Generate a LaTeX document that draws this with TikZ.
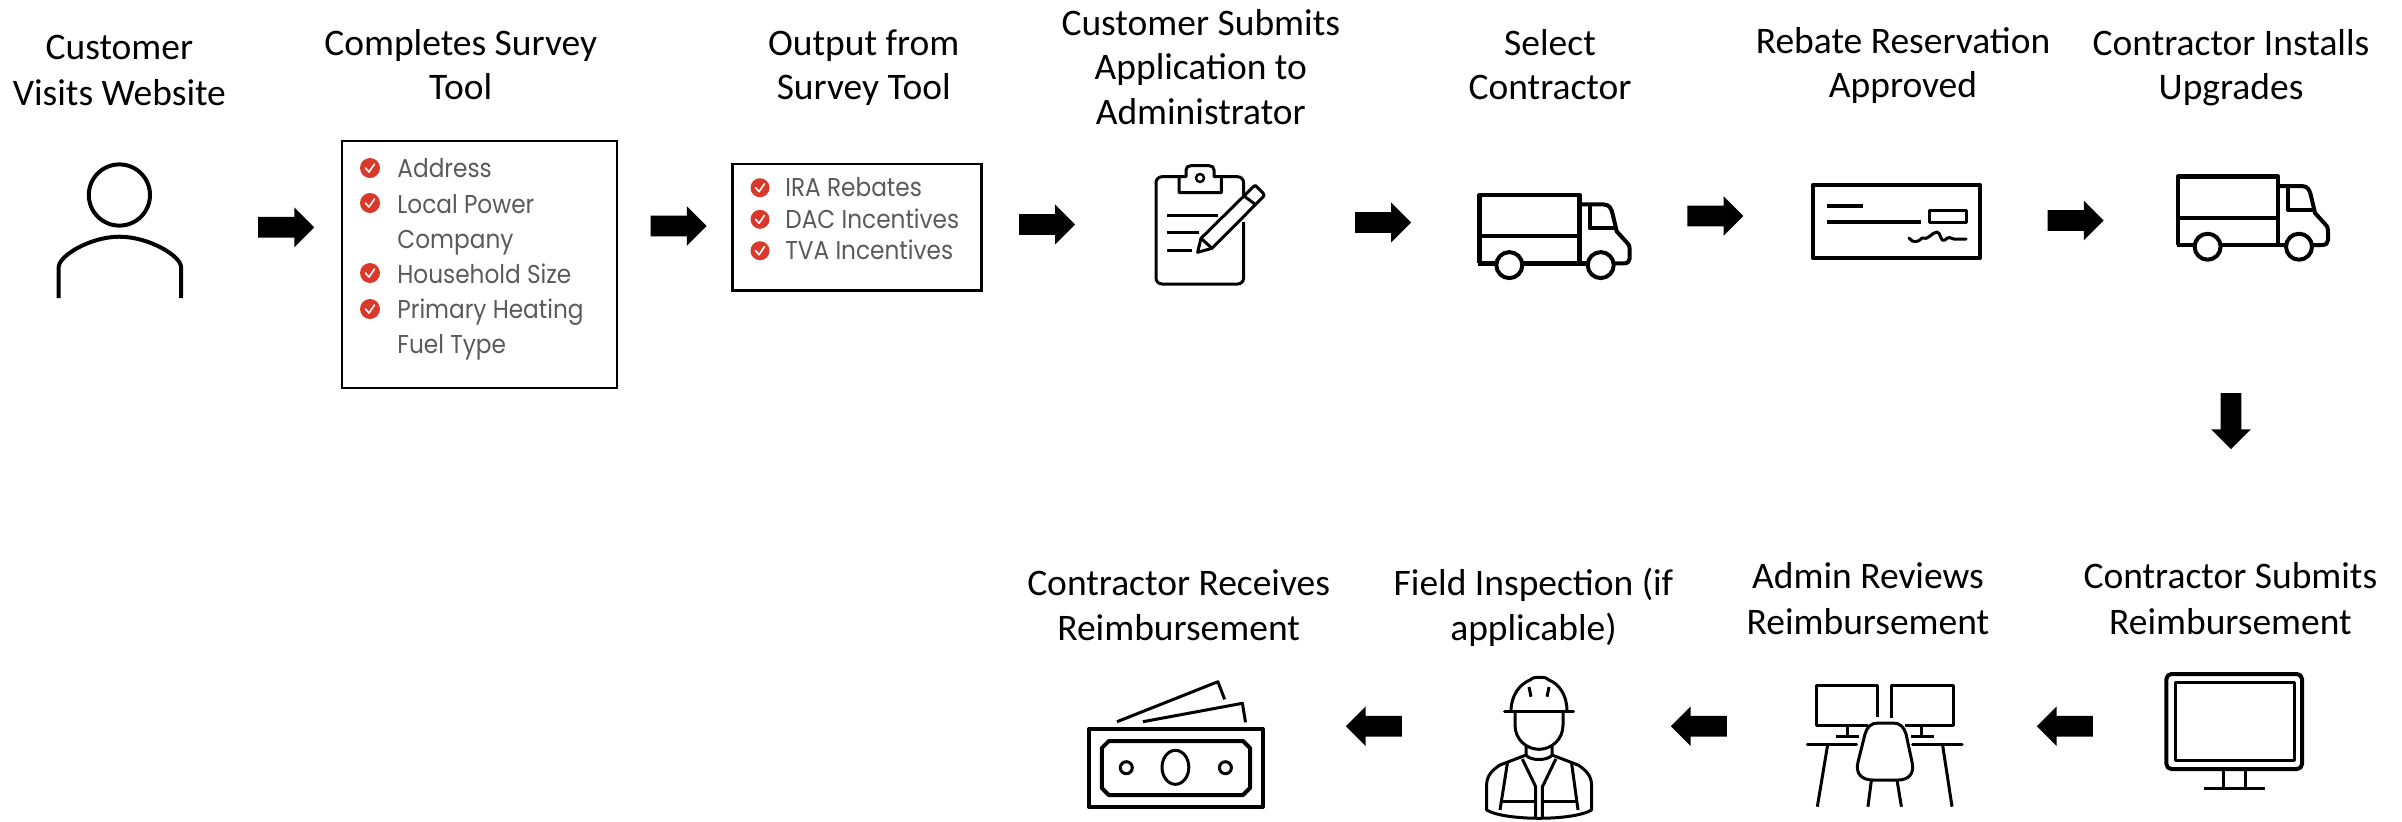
\documentclass[tikz,border=0pt]{standalone}
\usepackage{fontspec}
\usetikzlibrary{shapes.arrows,calc}
\setmainfont{Carlito}
\newfontfamily\listfont[FakeStretch=0.9]{Poppins}
\definecolor{listgray}{HTML}{5A5A5A}
\definecolor{checkred}{HTML}{D8392B}
\tikzset{
  steplabel/.style={anchor=base,align=center,inner sep=0pt,font=\fontsize{18.75}{22.2}\selectfont},
  tightlabel/.style={steplabel,font=\fontsize{18.75}{21.8}\selectfont},
  widelabel/.style={steplabel,font=\fontsize{18.75}{22.8}\selectfont},
  blockarrow/.style={single arrow,fill=black,draw=none,inner sep=0pt,minimum height=28pt,minimum width=19.5pt,
    single arrow head extend=4.75pt,single arrow head indent=0pt,single arrow tip angle=90,
    execute at begin node={\rule{0pt}{10pt}}},
  listbox/.style={draw=black,line width=1.1pt,anchor=north west,inner sep=0pt},
  listitem/.style={anchor=base west,inner sep=0pt,text=listgray,font=\listfont\fontsize{12.9}{14}\selectfont},
  icon/.style={line width=2pt,line join=round},
  iconthin/.style={line width=1.5pt,line join=round},
}
\newcommand{\checkdot}[3]{%
  \fill[checkred] (#1,#2) circle (#3);
  \draw[white,line width=.8pt,line cap=round,line join=round] ($(#1,#2)+(-4.5,0)$) -- ++(3.5,4) -- ++(5.5,-8);
}
\newcommand{\truckicon}[2]{%
  \begin{scope}[shift={(#1,#2)}]
    \draw[icon,line width=2.3pt] (2178,245) -- (2178,176.5) -- (2278,176.5) -- (2278,245);
    \draw[icon] (2178,218) -- (2278,218);
    \draw[icon,line width=2.3pt] (2176.6,245) -- (2300,245);
    \draw[icon] (2278,186) -- (2302,186) .. controls (2308,186) and (2310,191) .. (2311,196) -- (2315,213) -- (2325,224)
      .. controls (2328,227) and (2328,229) .. (2328,232) -- (2328,240) .. controls (2328,243) and (2326,245) .. (2322,245) -- (2305,245);
    \draw[icon] (2288,186) -- (2288,210) -- (2314,210);
    \draw[icon,fill=white] (2207.6,246.7) circle (13);
    \draw[icon,fill=white] (2299,246.7) circle (13);
  \end{scope}}
\begin{document}
\begin{tikzpicture}[x=0.5pt,y=-0.5pt]
\useasboundingbox (0,0) rectangle (2402,821);
% labels
\node[widelabel] (t1) at (119.4,105) {Customer\\Visits Website};
\node[tightlabel] (t2) at (460.7,99) {Completes Survey\\Tool};
\node[tightlabel] (t3) at (863.7,99) {Output from\\Survey Tool};
\node[steplabel] (t4) at (1200.8,124) {Customer Submits\\Application to\\Administrator};
\node[tightlabel] (t5) at (1550,99) {Select\\Contractor};
\node[tightlabel] (t6) at (1903,97) {Rebate Reservation\\Approved};
\node[tightlabel] (t7) at (2231,99) {Contractor Installs\\Upgrades};
\node[steplabel] (t8) at (1178.6,640) {Contractor Receives\\Reimbursement};
\node[steplabel] (t9) at (1533.5,640) {Field Inspection (if\\applicable)};
\node[widelabel] (t10) at (1867.9,634.5) {Admin Reviews\\Reimbursement};
\node[widelabel] (t11) at (2230.4,634.5) {Contractor Submits\\Reimbursement};
% arrows
\node[blockarrow] (a1) at (281,227.3) {};
\node[blockarrow] (a2) at (673.5,226) {};
\node[blockarrow] (a3) at (1041.8,224.5) {};
\node[blockarrow] (a4) at (1377.8,222.5) {};
\node[blockarrow] (a5) at (1710.2,216) {};
\node[blockarrow] (a6) at (2070.5,220.5) {};
\node[blockarrow,rotate=-90] (a7) at (2231,416) {};
\node[blockarrow,rotate=180] (a8) at (2070,726.3) {};
\node[blockarrow,rotate=180] (a9) at (1704,726.3) {};
\node[blockarrow,rotate=180] (a10) at (1379,726.3) {};
% person
\draw[icon] (119.4,195) circle (30.6);
\draw[icon] (58.7,298) -- (58.7,267) .. controls (58.7,256) and (90,236.7) .. (119.4,236.7) .. controls (149,236.7) and (181,256) .. (181,267) -- (181,298);
% survey box
\node[listbox,minimum width=137.5pt,minimum height=123.5pt] (b1) at (341,139.7) {};
\checkdot{370}{168}{10}
\checkdot{370}{203}{10}
\checkdot{370}{273}{10}
\checkdot{370}{309}{10}
\node[listitem] (i1) at (397,177) {Address};
\node[listitem] (i2) at (397,213) {Local Power};
\node[listitem] (i3) at (397,248) {Company};
\node[listitem] (i4) at (397,283) {Household Size};
\node[listitem] (i5) at (397,318) {Primary Heating};
\node[listitem] (i6) at (397,353) {Fuel Type};
% output box
\node[listbox,minimum width=124.5pt,minimum height=63.2pt,line width=1.3pt] (b2) at (731.4,162.7) {};
\checkdot{760}{187.7}{9.5}
\checkdot{760}{219.3}{9.5}
\checkdot{760}{250.7}{9.5}
\node[listitem] (j1) at (785,196.7) {IRA Rebates};
\node[listitem] (j2) at (785,228) {DAC Incentives};
\node[listitem] (j3) at (785,259) {TVA Incentives};
% clipboard
\draw[iconthin,rounded corners=3pt] (1179,176.7) -- (1156,176.7) -- (1156,284) -- (1243.6,284) -- (1243.6,222);
\draw[iconthin,rounded corners=3pt] (1221.4,176.7) -- (1243.6,176.7) -- (1243.6,196);
\draw[iconthin] (1179,176.7) -- (1179,192.7) -- (1221.4,192.7) -- (1221.4,176.7) -- (1214,176.7) -- (1214,170) .. controls (1214,167) and (1212,165.7) .. (1209,165.7) -- (1191,165.7) .. controls (1188,165.7) and (1186,167) .. (1186,170) -- (1186,176.7) -- cycle;
\draw[line width=1.2pt] (1200,178) circle (4);
\draw[iconthin] (1167,215) -- (1217.6,215) (1167,232.7) -- (1198.6,232.7) (1167,250.7) -- (1192,250.7);
\draw[iconthin,fill=white] (1197.6,252.3) -- (1201,238.3) -- (1253,187) .. controls (1255,185) and (1256,185) .. (1257,187) -- (1263,193) .. controls (1264.5,195) and (1264,196) .. (1263,197) -- (1212,248.3) -- cycle;
\draw[iconthin] (1201,238.3) -- (1212,248.3) (1244,196) -- (1256,205);
% trucks
\truckicon{-698.3}{18.4}
\truckicon{0}{0}
% cheque
\draw[icon] (1812.5,185) rectangle (1980,258);
\draw[icon] (1827,206) -- (1863,206) (1827,221.7) -- (1921,221.7);
\draw[iconthin] (1929,210.7) rectangle (1966,222.7);
\draw[iconthin,line cap=round] (1909,238) .. controls (1913,243) and (1917,243) .. (1922,238) .. controls (1928,241) and (1932,232) .. (1937,232) .. controls (1941,232) and (1940,243) .. (1945,240) .. controls (1948,236) and (1951,238) .. (1954,239) -- (1966,239);
% money
\draw[iconthin] (1117,721.7) -- (1217.9,681.7) -- (1224.6,699.3);
\draw[iconthin] (1142.9,721.7) -- (1242.4,703.3) -- (1245.5,722.3);
\draw[icon] (1089,729) rectangle (1262.5,806.7);
\draw[icon] (1108.8,741) -- (1243,741) -- (1250,748) -- (1250,788) -- (1243,795) -- (1108.8,795) -- (1101.8,788) -- (1101.8,748) -- cycle;
\draw[iconthin] (1175.4,767.3) ellipse (13.4 and 17);
\draw[iconthin] (1126.3,767.7) circle (6);
\draw[iconthin] (1225.4,767.7) circle (6);
% worker
\draw[iconthin,line cap=round] (1504.5,711) -- (1573.7,711);
\draw[iconthin] (1511,711) .. controls (1511,695) and (1520,684) .. (1530,680) .. controls (1532,678) and (1534,677.3) .. (1537,677.3) -- (1542,677.3) .. controls (1545,677.3) and (1547,678) .. (1549,680) .. controls (1559,684) and (1567,695) .. (1567,711);
\draw[iconthin] (1529,687) -- (1531,696.7) (1549,687) -- (1547,696.7);
\draw[iconthin] (1515,711) -- (1515,725) .. controls (1515,740) and (1527,749.3) .. (1539,749.3) .. controls (1551,749.3) and (1563,740) .. (1563,725) -- (1563,711);
\draw[iconthin] (1526,745) -- (1526,755) .. controls (1530,761) and (1548,761) .. (1552,755) -- (1552,745);
\draw[iconthin] (1526,755) -- (1500,765) .. controls (1492,770) and (1486.6,776) .. (1486.6,785) -- (1486.6,810) .. controls (1505,821) and (1573,821) .. (1591.5,810) -- (1591.5,785) .. controls (1591.5,776) and (1586,770) .. (1578,765) -- (1552,755);
\draw[iconthin] (1507.6,761.7) -- (1500,810) (1571.4,761.7) -- (1578,810);
\draw[iconthin] (1522.3,759) -- (1535.7,786.7) -- (1535.7,817) (1555.8,759) -- (1542.4,786.7) -- (1542.4,817);
\draw[iconthin] (1500,801.7) -- (1535.7,801.7) (1542.4,801.7) -- (1578,801.7);
% desk
\draw[iconthin] (1877.7,716.7) -- (1877.7,685.7) -- (1816.4,685.7) -- (1816.4,725) -- (1868,725);
\draw[iconthin] (1891.6,718) -- (1891.6,685.7) -- (1953,685.7) -- (1953,725) -- (1905,725);
\draw[iconthin] (1847.7,725) -- (1847.7,736.7) (1835.6,736.7) -- (1859,736.7);
\draw[iconthin] (1921.6,725) -- (1921.6,736.7) (1911,736.7) -- (1934,736.7);
\draw[iconthin,line cap=round] (1807.4,744) -- (1856.7,744) (1912.6,744) -- (1962,744);
\draw[iconthin] (1827.6,745) -- (1817.3,806.7) (1942.6,745) -- (1952,806.7);
\draw[iconthin] (1878,723) -- (1893,723) .. controls (1900,723) and (1904,727) .. (1906,734) -- (1912,762) .. controls (1915,774) and (1908,780) .. (1898,780) -- (1873,780) .. controls (1862,780) and (1855,774) .. (1858,762) -- (1865,734) .. controls (1867,727) and (1871,723) .. (1878,723) -- cycle;
\draw[iconthin] (1871.4,780) -- (1867.9,806.7) (1897,780) -- (1901.4,806.7);
% monitor
\draw[icon,rounded corners=2.5pt] (2166.4,674) rectangle (2302,769);
\draw[iconthin] (2175.4,682.7) rectangle (2294.5,760);
\draw[iconthin] (2223.7,769) -- (2223.7,788.3) (2245,769) -- (2245,788.3);
\draw[iconthin] (2203.6,788.3) -- (2265,788.3);
\end{tikzpicture}
\end{document}
